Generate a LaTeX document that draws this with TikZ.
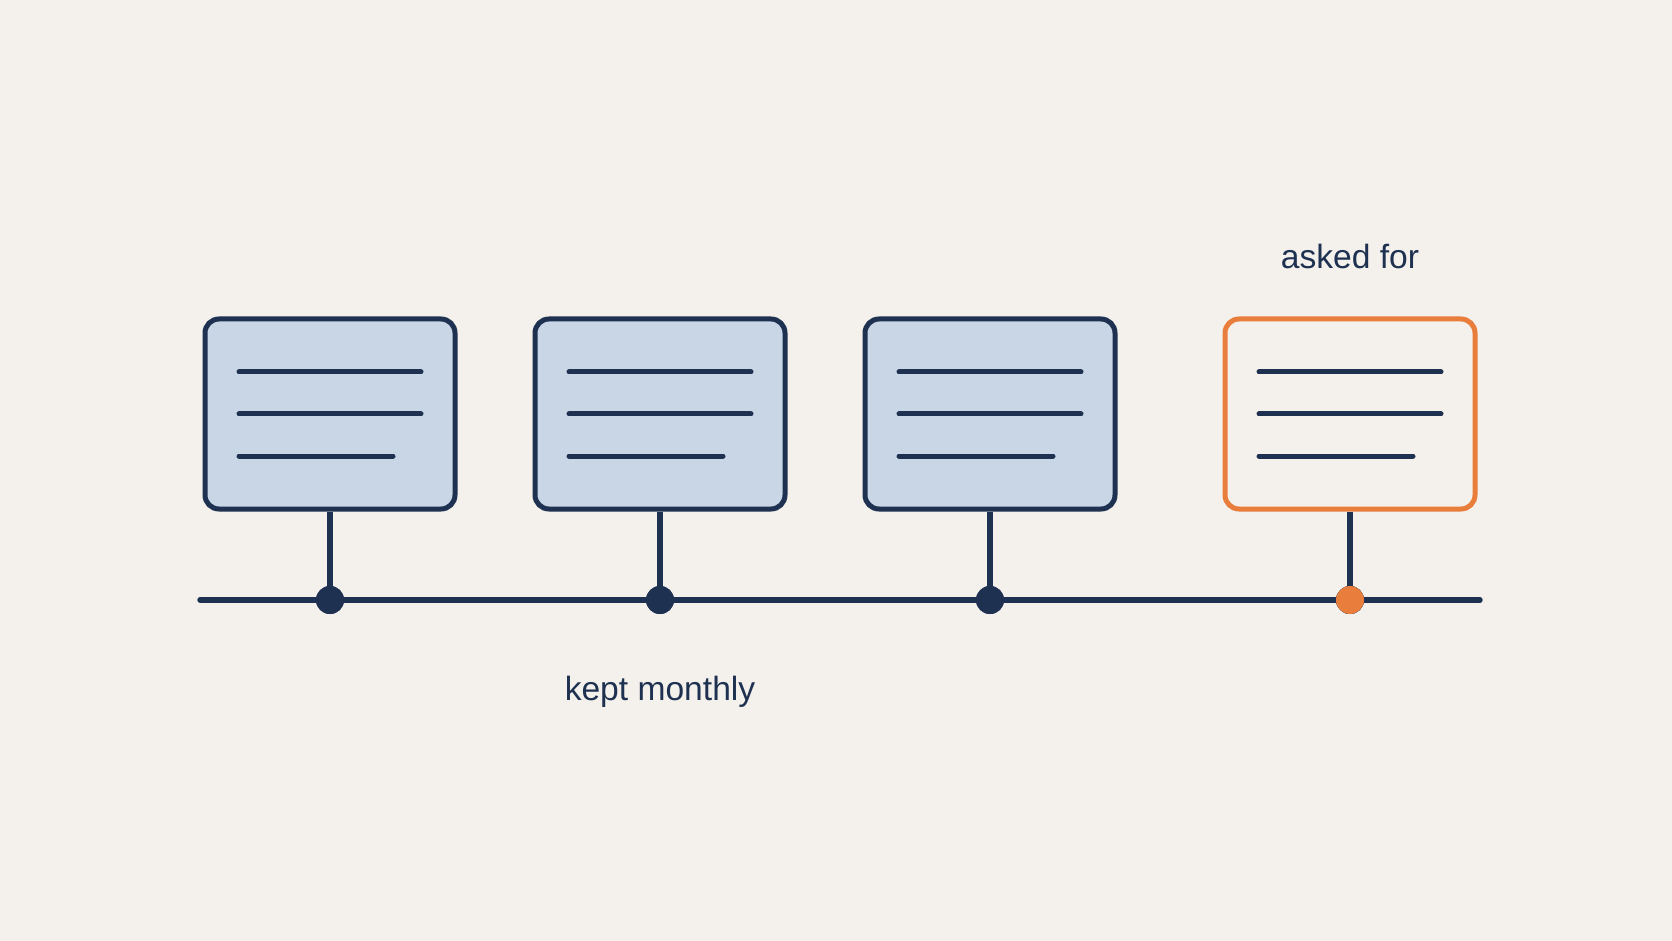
\documentclass[tikz,border=0pt]{standalone}
\usepackage{fontspec}
\setmainfont{Liberation Sans}
\usetikzlibrary{positioning,calc}
\definecolor{navy}{HTML}{1E3150}
\definecolor{pale}{HTML}{C9D6E6}
\definecolor{amber}{HTML}{E97D3B}
\definecolor{paper}{HTML}{F4F1EC}
\tikzset{
  docbox/.style={draw=navy,fill=pale,line width=2.5pt,rounded corners=7pt,
    minimum width=125pt,minimum height=95pt,inner sep=0pt},
  askbox/.style={docbox,draw=amber,fill=none},
  textline/.style={draw=navy,line width=2.5pt,line cap=round},
  stem/.style={draw=navy,line width=2.7pt},
  dot/.style={circle,fill=navy,minimum size=14pt,inner sep=0pt},
  label/.style={text=navy,font=\fontsize{16.8}{20}\selectfont,anchor=base}
}
\begin{document}
\begin{tikzpicture}[x=0.5pt,y=-0.5pt]
  \fill[paper] (0,0) rectangle (1672,941);
  \useasboundingbox (0,0) rectangle (1672,941);

  % timeline
  \coordinate (start) at (200,600);
  \coordinate (end) at (1480,600);
  \draw[textline,line width=2.7pt] (start) -- (end);

  % kept copies and the one asked for
  \foreach \i/\x/\kind in {1/330/docbox,2/660/docbox,3/990/docbox,4/1350/askbox} {
    \node[\kind] (box\i) at (\x,414) {};
    \draw[textline] ($(box\i.center)+(-91,-42)$) -- ($(box\i.center)+(91,-42)$);
    \draw[textline] ($(box\i.center)+(-91,0)$) -- ($(box\i.center)+(91,0)$);
    \draw[textline] ($(box\i.center)+(-91,42)$) -- ($(box\i.center)+(63,42)$);
    \node[dot] (dot\i) at (\x,600) {};
    \draw[stem] (box\i.south) -- (dot\i.center);
    \node[dot] at (dot\i) {};
  }
  \node[dot,fill=amber] at (dot4) {};

  \node[label] (asked) at (1350,269) {asked for};
  \node[label] (kept) at (660,700) {kept monthly};
\end{tikzpicture}
\end{document}
